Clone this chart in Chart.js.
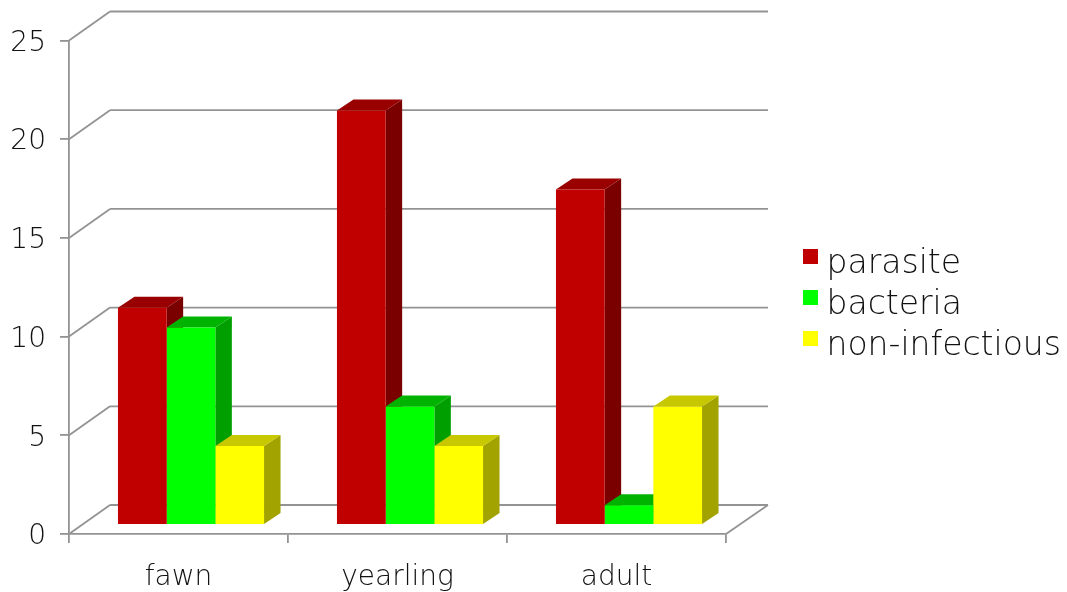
<!DOCTYPE html>
<html>
<head>
<meta charset="utf-8">
<title>Cases by age class</title>
<script src="https://cdn.jsdelivr.net/npm/chart.js@4/dist/chart.umd.js"></script>
<style>
  html, body { margin: 0; padding: 0; background: #fff; }
  canvas { display: block; }
</style>
</head>
<body>
<canvas id="ageChart" width="1067" height="592"></canvas>
<script>
const categories = ["fawn", "yearling", "adult"];
const seriesNames = ["parasite", "bacteria", "non-infectious"];
const parasite = [11, 21, 17];
const bacteria = [10, 6, 1];
const nonInfectious = [4, 4, 6];
const seriesValues = [parasite, bacteria, nonInfectious];
const yMax = 25;
const yStep = 5;

const frontColors = ["#c00000", "#00ff00", "#ffff00"];
const topColors = ["#990000", "#00b300", "#c8c800"];
const sideColors = ["#7a0000", "#009f00", "#a3a300"];

const lineColor = "#939393";
const textColor = "#111111";
const fontFamily = "'DejaVu Sans Light', 'DejaVu Sans', sans-serif";

// offset of the bar row from the front of the floor, and how deep each bar is
const barShift = { x: 12.5, y: -9 };
const barDepth = { x: 16.5, y: -11 };
// offset of the back wall from the front axes
const wallDepth = { x: 41, y: -29 };

function line(ctx, x1, y1, x2, y2) {
  ctx.beginPath();
  ctx.moveTo(x1, y1);
  ctx.lineTo(x2, y2);
  ctx.stroke();
}

function poly(ctx, pts, color) {
  ctx.fillStyle = color;
  ctx.beginPath();
  pts.forEach((p, i) => i ? ctx.lineTo(p[0], p[1]) : ctx.moveTo(p[0], p[1]));
  ctx.closePath();
  ctx.fill();
}

// legend marker: square sits above and left of the point the legend centres it on
function legendSwatch(color) {
  const c = document.createElement("canvas");
  c.width = 17;
  c.height = 31;
  const g = c.getContext("2d");
  g.fillStyle = color;
  g.fillRect(2, 0, 15, 15);
  return c;
}

const wallPlugin = {
  id: "wall",
  beforeDatasetsDraw(chart) {
    const { ctx, scales: { x, y } } = chart;
    ctx.save();
    ctx.strokeStyle = lineColor;
    ctx.lineWidth = 1.8;
    y.ticks.forEach(t => {
      const py = y.getPixelForValue(t.value);
      line(ctx, x.left, py, x.left + wallDepth.x, py + wallDepth.y);
      line(ctx, x.left + wallDepth.x, py + wallDepth.y, x.right + wallDepth.x + 1, py + wallDepth.y);
    });
    const floor = y.getPixelForValue(0);
    line(ctx, x.right, floor, x.right + wallDepth.x + 1, floor + wallDepth.y);
    ctx.restore();
  }
};

// top and right faces go under the library's front faces
const barDepthPlugin = {
  id: "barDepth",
  beforeDatasetsDraw(chart) {
    const ctx = chart.ctx;
    ctx.save();
    ctx.translate(barShift.x, barShift.y);
    seriesValues.forEach((vals, i) => {
      chart.getDatasetMeta(i).data.forEach(bar => {
        const { x, y, base, width } = bar.getProps(["x", "y", "base", "width"], true);
        const l = x - width / 2;
        const r = x + width / 2;
        const dx = barDepth.x;
        const dy = barDepth.y;
        poly(ctx, [[r, y], [r + dx, y + dy], [r + dx, base + dy], [r, base]], sideColors[i]);
        poly(ctx, [[l, y], [l + dx, y + dy], [r + dx, y + dy], [r, y]], topColors[i]);
      });
    });
    // left translated for the bars themselves
  },
  afterDatasetsDraw(chart) {
    chart.ctx.restore();
  }
};

const legendPlacePlugin = {
  id: "legendPlace",
  afterLayout(chart) {
    const legend = chart.legend;
    legend.left = 801;
    legend.top = 240;
    legend.right = legend.left + legend.width;
    legend.bottom = legend.top + legend.height;
  }
};

new Chart(document.getElementById("ageChart"), {
  type: "bar",
  data: {
    labels: categories,
    datasets: seriesNames.map((name, i) => ({
      label: name,
      data: seriesValues[i],
      backgroundColor: frontColors[i],
      borderWidth: 0,
      clip: false,
      barPercentage: 1,
      categoryPercentage: 0.667
    }))
  },
  options: {
    responsive: false,
    animation: false,
    layout: { padding: { top: 40.5, right: 341, left: 0, bottom: 0 } },
    plugins: {
      tooltip: { enabled: false },
      legend: {
        position: "chartArea",
        align: "start",
        labels: {
          usePointStyle: true,
          boxWidth: 1,
          boxHeight: 15,
          padding: 8,
          color: textColor,
          font: { family: fontFamily, size: 33 },
          generateLabels: () => seriesNames.map((name, i) => ({
            text: name,
            datasetIndex: i,
            pointStyle: legendSwatch(frontColors[i]),
            fontColor: textColor,
            lineWidth: 0
          }))
        }
      }
    },
    scales: {
      x: {
        afterFit: s => { s.height = 58; },
        grid: { drawOnChartArea: false, tickLength: 9, color: lineColor, lineWidth: 1.8 },
        border: { color: lineColor, width: 1.8 },
        ticks: { color: textColor, padding: 18, maxRotation: 0, font: { family: fontFamily, size: 28 } }
      },
      y: {
        min: 0,
        max: yMax,
        afterFit: s => { s.width = 69; },
        grid: { drawOnChartArea: false, tickLength: 9, color: lineColor, lineWidth: 1.8 },
        border: { color: lineColor, width: 1.8 },
        ticks: { stepSize: yStep, color: textColor, padding: 14, labelOffset: 3, font: { family: fontFamily, size: 28 } }
      }
    }
  },
  plugins: [wallPlugin, barDepthPlugin, legendPlacePlugin]
});
</script>
</body>
</html>
